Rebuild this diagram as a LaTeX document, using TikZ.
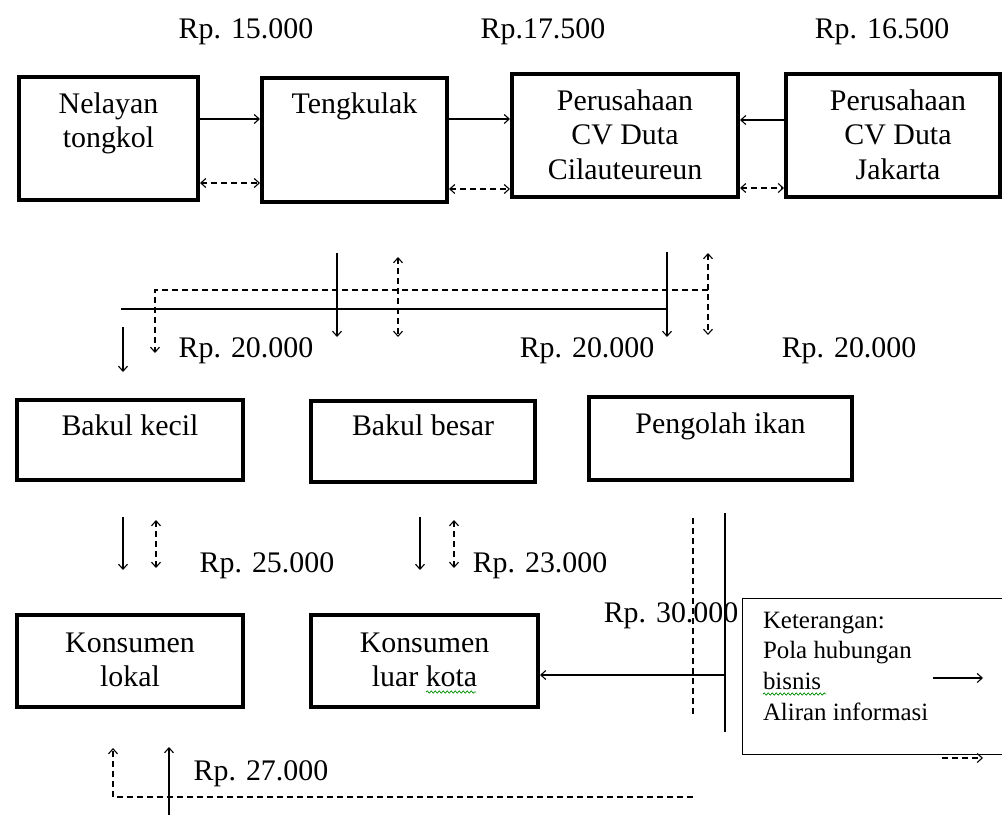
\documentclass[tikz,border=0pt]{standalone}
\usepackage{fontspec}
\setmainfont{Liberation Serif}
\usetikzlibrary{arrows.meta,decorations.pathmorphing}

\begin{document}
\begin{tikzpicture}[x=1bp,y=-1bp,
  >={Straight Barb[length=5bp,width=9bp,line width=1.1bp]},
  box/.style={draw, line width=4bp, inner sep=0pt, outer sep=2bp, anchor=north west},
  legbox/.style={draw, line width=1.2bp, inner sep=0pt, outer sep=0pt, anchor=north west},
  % multi-line labels are anchored at the baseline of their last line
  lbl/.style={font=\fontsize{30}{34.5}\selectfont, inner sep=0pt, outer sep=0pt, align=center, anchor=base},
  price/.style={font=\fontsize{30}{34.5}\selectfont, inner sep=0pt, outer sep=0pt, anchor=base},
  legtxt/.style={font=\fontsize{25}{30.7}\selectfont, inner sep=0pt, outer sep=0pt, align=left, anchor=base west},
  solidline/.style={line width=1.4bp},
  dline/.style={line width=1.4bp, dash pattern=on 6bp off 4bp},
  flow/.style={solidline, ->},
  info/.style={dline, <->},
  spell/.style={draw=green!55!black, line width=0.7bp, decorate,
    decoration={snake, amplitude=1.1bp, segment length=4bp}}
]
\path[use as bounding box] (0,0) rectangle (1002,820);
\clip (0,0) rectangle (1002,820);

% ---- top row: fishermen to companies ----
\node[box, minimum width=179bp, minimum height=123bp] (nel) at (17,75) {};
\node[box, minimum width=185bp, minimum height=124bp] (ten) at (260,76) {};
\node[box, minimum width=226bp, minimum height=123bp] (cil) at (510,72) {};
\node[box, minimum width=214bp, minimum height=123bp] (jak) at (784,72) {};

\node[lbl] (nel-t) at (nel.north |- 0,147.5) {Nelayan\\tongkol};
\node[lbl] (ten-t) at (ten.north |- 0,113) {Tengkulak};
\node[lbl] (cil-t) at (cil.north |- 0,179) {Perusahaan\\CV Duta\\Cilauteureun};
\node[lbl] (jak-t) at ([xshift=5bp]jak.north |- 0,179) {Perusahaan\\CV Duta\\Jakarta};

\node[price] (p1) at (246,39) {Rp. 15.000};
\node[price] (p2) at (543,39) {Rp.17.500};
\node[price] (p3) at (882,39) {Rp. 16.500};

\draw[flow] (nel.east |- 0,119) -- (ten.west |- 0,119);
\draw[info] (nel.east |- 0,183) -- (ten.west |- 0,183);
\draw[flow] (ten.east |- 0,119) -- (cil.west |- 0,119);
\draw[info] (ten.east |- 0,189) -- (cil.west |- 0,189);
\draw[flow] (jak.west |- 0,120) -- (cil.east |- 0,120);
\draw[info] (cil.east |- 0,188) -- (jak.west |- 0,188);

% ---- distribution lines towards the bakul ----
\coordinate (busL) at (121,309);
\coordinate (busR) at (667,309);
\coordinate (dbusL) at (155,290);
\coordinate (dbusR) at (708,290);
\coordinate (a1s) at (337,253);  \coordinate (a1e) at (337,337);
\coordinate (a2s) at (667,252);  \coordinate (a2e) at (667,337);
\coordinate (a3s) at (123,327);  \coordinate (a3e) at (123,372);
\coordinate (d1s) at (398,257);  \coordinate (d1e) at (398,337);
\coordinate (d2s) at (708,253);  \coordinate (d2e) at (708,335);
\coordinate (d3e) at (155,353);

\draw[solidline] (busL) -- (busR);
\draw[flow] (a1s) -- (a1e);
\draw[flow] (a2s) -- (a2e);
\draw[flow] (a3s) -- (a3e);
\draw[dline,->] (dbusR) -- (dbusL) -- (d3e);
\draw[info] (d1s) -- (d1e);
\draw[info] (d2s) -- (d2e);

\node[price] (p4) at (246,357) {Rp. 20.000};
\node[price] (p5) at (587,357) {Rp. 20.000};
\node[price] (p6) at (849,357) {Rp. 20.000};

% ---- middle row ----
\node[box, minimum width=226bp, minimum height=80bp] (bk) at (15,398) {};
\node[box, minimum width=224bp, minimum height=81bp] (bb) at (309,399) {};
\node[box, minimum width=263bp, minimum height=83bp] (pi) at (587,395) {};

\node[lbl] (bk-t) at (bk.north |- 0,435) {Bakul kecil};
\node[lbl] (bb-t) at (bb.north |- 0,435) {Bakul besar};
\node[lbl] (pi-t) at (pi.north |- 0,433) {Pengolah ikan};

\coordinate (b1s) at (123,517); \coordinate (b1e) at (123,570);
\coordinate (b2s) at (156,520); \coordinate (b2e) at (156,568);
\coordinate (b3s) at (420,517); \coordinate (b3e) at (420,570);
\coordinate (b4s) at (454,520); \coordinate (b4e) at (454,568);
\draw[flow] (b1s) -- (b1e);
\draw[info] (b2s) -- (b2e);
\draw[flow] (b3s) -- (b3e);
\draw[info] (b4s) -- (b4e);

\node[price] (p7) at (267,572) {Rp. 25.000};
\node[price] (p8) at (540,572) {Rp. 23.000};

% ---- consumers ----
\node[box, minimum width=226bp, minimum height=92bp] (kl) at (15,613) {};
\node[box, minimum width=227bp, minimum height=92bp] (klk) at (309,613) {};

\node[lbl] (kl-t) at (kl.north |- 0,686.5) {Konsumen\\lokal};
\node[lbl] (klk-t) at (klk.north |- 0,686.5) {Konsumen\\luar kota};
\draw[spell] (426,692) -- (476,692);

\coordinate (vdT) at (693,518); \coordinate (vdB) at (693,714);
\coordinate (vsT) at (725,513); \coordinate (vsB) at (725,732);
\coordinate (vsM) at (725,675);
\draw[dline] (vdT) -- (vdB);
\draw[solidline] (vsT) -- (vsB);
\draw[flow] (vsM) -- (klk.east |- vsM);

\node[price] (p9) at (671,622) {Rp. 30.000};

\coordinate (bdR) at (693,797);
\coordinate (bdL) at (113,797);
\coordinate (bdE) at (113,748);
\coordinate (bsS) at (169,815);
\coordinate (bsE) at (169,747);
\draw[dline,->] (bdR) -- (bdL) -- (bdE);
\draw[flow] (bsS) -- (bsE);

\node[price] (p10) at (261,780) {Rp. 27.000};

% ---- legend ----
\node[legbox, minimum width=272bp, minimum height=156bp, fill=white] (leg) at (742.5,598.5) {};
\node[legtxt] (leg-t) at (763,720) {Keterangan:\\Pola hubungan\\bisnis\\Aliran informasi};
\draw[spell] (763,694) -- (826,694);
\coordinate (l1s) at (933,678); \coordinate (l1e) at (983,678);
\coordinate (l2s) at (942,758); \coordinate (l2e) at (983,758);
\draw[flow] (l1s) -- (l1e);
\draw[dline,->] (l2s) -- (l2e);
\end{tikzpicture}
\end{document}
